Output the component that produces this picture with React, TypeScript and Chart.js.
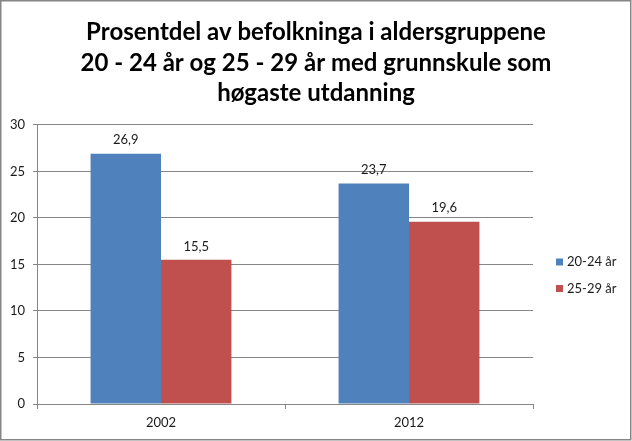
import React, { useEffect, useRef } from "react";
import { Chart, registerables } from "chart.js";

Chart.register(...registerables);

const titleLines = [
  "Prosentdel av befolkninga i aldersgruppene",
  "20 - 24 år og 25 - 29 år med grunnskule som",
  "høgaste utdanning",
];
const categories = ["2002", "2012"];
const seriesNames = ["20-24 år", "25-29 år"];
const values2024 = [26.9, 23.7];
const values2529 = [15.5, 19.6];
const seriesColors = ["#4F81BD", "#C0504D"];
const yTicks = { min: 0, max: 30, step: 5 };

const FONT = "Lato, 'Open Sans', sans-serif";

const framePlugin = {
  id: "frame",
  beforeDraw(chart: any) {
    const { ctx, width, height } = chart;
    ctx.save();
    ctx.fillStyle = "#ffffff";
    ctx.fillRect(0, 0, width, height);
    ctx.strokeStyle = "#868686";
    ctx.lineWidth = 1.5;
    ctx.strokeRect(0.75, 0.75, width - 2, height - 2);
    ctx.restore();
  },
};

const labelPlugin = {
  id: "barLabels",
  afterDatasetsDraw(chart: any) {
    const { ctx } = chart;
    ctx.save();
    ctx.font = `13px ${FONT}`;
    ctx.fillStyle = "#1a1a1a";
    ctx.textAlign = "center";
    ctx.textBaseline = "bottom";
    chart.data.datasets.forEach((ds: any, i: number) => {
      const meta = chart.getDatasetMeta(i);
      meta.data.forEach((bar: any, j: number) => {
        const v = ds.data[j];
        ctx.fillText(String(v).replace(".", ","), bar.x, bar.y - 7);
      });
    });
    ctx.restore();
  },
};

const legendPlugin = {
  id: "customLegend",
  afterDraw(chart: any) {
    const { ctx } = chart;
    ctx.save();
    ctx.font = `13px ${FONT}`;
    ctx.textBaseline = "middle";
    ctx.textAlign = "left";
    const x0 = 556;
    const ys = [262, 288.5];
    chart.data.datasets.forEach((ds: any, i: number) => {
      ctx.fillStyle = ds.backgroundColor;
      ctx.fillRect(x0, ys[i] - 3.5, 7, 7);
      ctx.fillStyle = "#1a1a1a";
      ctx.fillText(ds.label, x0 + 11, ys[i]);
    });
    ctx.restore();
  },
};

export default function App() {
  const ref = useRef<HTMLCanvasElement | null>(null);

  useEffect(() => {
    if (!ref.current) return;
    const chart = new Chart(ref.current, {
      type: "bar",
      data: {
        labels: categories,
        datasets: [
          {
            label: seriesNames[0],
            data: values2024,
            backgroundColor: seriesColors[0],
            barPercentage: 1,
            categoryPercentage: 0.568,
          },
          {
            label: seriesNames[1],
            data: values2529,
            backgroundColor: seriesColors[1],
            barPercentage: 1,
            categoryPercentage: 0.568,
          },
        ],
      },
      options: {
        animation: false,
        responsive: false,
        maintainAspectRatio: false,
        devicePixelRatio: 1,
        layout: { padding: 0 },
        plugins: {
          legend: { display: false },
          tooltip: { enabled: false },
          title: {
            display: true,
            text: titleLines,
            color: "#000000",
            font: { family: FONT, size: 24, weight: "bold", lineHeight: 1.27 },
            padding: { top: 17.5, bottom: 16 },
          },
        },
        scales: {
          x: {
            grid: {
              display: true,
              offset: true,
              drawOnChartArea: false,
              drawTicks: true,
              tickLength: 5,
              color: "#868686",
            },
            border: { display: true, color: "#868686" },
            ticks: {
              color: "#1a1a1a",
              font: { family: FONT, size: 13 },
              padding: 6,
            },
            afterFit(scale: any) {
              scale.height = 37;
            },
          },
          y: {
            min: yTicks.min,
            max: yTicks.max,
            ticks: {
              stepSize: yTicks.step,
              color: "#1a1a1a",
              font: { family: FONT, size: 13 },
              padding: 8,
            },
            grid: {
              color: "#868686",
              drawTicks: true,
              tickLength: 4,
            },
            border: { display: true, color: "#868686" },
            afterFit(scale: any) {
              scale.width = 37;
            },
          },
          legendSpace: {
            type: "linear",
            position: "right",
            display: true,
            grid: { display: false },
            border: { display: false },
            ticks: { display: false },
            afterFit(scale: any) {
              scale.width = 99;
            },
          },
        },
      },
      plugins: [framePlugin, labelPlugin, legendPlugin],
    });
    return () => chart.destroy();
  }, []);

  return (
    <div style={{ position: "fixed", left: 0, top: 0, width: 632, height: 441 }}>
      <canvas ref={ref} width={632} height={441} style={{ display: "block", width: 632, height: 441 }} />
    </div>
  );
}
